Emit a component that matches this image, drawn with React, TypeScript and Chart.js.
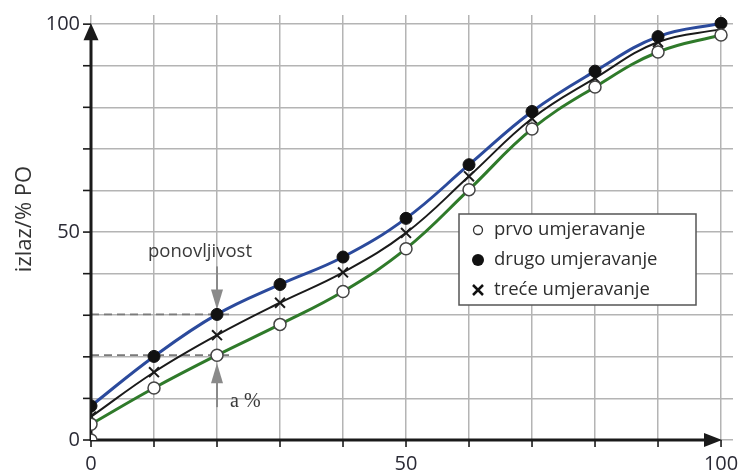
import React, { useEffect, useRef } from "react";
import { Chart, registerables } from "chart.js";

Chart.register(...registerables);

const xValues = [0, 10, 20, 30, 40, 50, 60, 70, 80, 90, 100];
const prvo = [3.8, 12.5, 20.4, 27.8, 35.7, 46.0, 60.2, 74.8, 84.9, 93.3, 97.4];
const drugo = [8.2, 20.1, 30.2, 37.4, 44.0, 53.3, 66.2, 79.0, 88.7, 97.0, 100.2];
const trece = [5.6, 16.3, 25.2, 33.0, 40.3, 49.8, 63.4, 77.3, 87.0, 95.7, 98.8];
const originPoint = [{ x: 0, y: 0 }];
const tickValues = [0, 10, 20, 30, 40, 50, 60, 70, 80, 90, 100];
const labelledTicks = [0, 50, 100];
const legendLabels = ["prvo umjeravanje", "drugo umjeravanje", "treće umjeravanje"];
const yTitle = "izlaz/% PO";
const repeatText = "ponovljivost";
const aText = "a %";
const markX = 20;

const FONT = "'Open Sans', 'Noto Sans', sans-serif";

const toPts = (ys: number[]) => ys.map((y, i) => ({ x: xValues[i], y }));

function arrowHead(ctx: CanvasRenderingContext2D, tx: number, ty: number, dir: "up" | "down" | "right", len: number, half: number) {
  ctx.beginPath();
  if (dir === "up") {
    ctx.moveTo(tx, ty);
    ctx.lineTo(tx - half, ty + len);
    ctx.lineTo(tx + half, ty + len);
  } else if (dir === "down") {
    ctx.moveTo(tx, ty);
    ctx.lineTo(tx - half, ty - len);
    ctx.lineTo(tx + half, ty - len);
  } else {
    ctx.moveTo(tx, ty);
    ctx.lineTo(tx - len, ty - half);
    ctx.lineTo(tx - len, ty + half);
  }
  ctx.closePath();
  ctx.fill();
}

const overlay = {
  id: "overlay",
  beforeDatasetsDraw(chart: any) {
    const ctx: CanvasRenderingContext2D = chart.ctx;
    const xs = chart.scales.x;
    const ys = chart.scales.y;
    const x0 = xs.getPixelForValue(0);
    const y0 = ys.getPixelForValue(0);
    const xEnd = xs.getPixelForValue(100);
    const yEnd = ys.getPixelForValue(100);
    const px20 = xs.getPixelForValue(markX);
    const idx = xValues.indexOf(markX);
    ctx.save();
    // dashed lines
    ctx.strokeStyle = "#7a7a7a";
    ctx.lineWidth = 1.6;
    ctx.setLineDash([8, 5]);
    [drugo[idx], prvo[idx]].forEach((v) => {
      const py = ys.getPixelForValue(v);
      ctx.beginPath();
      ctx.moveTo(x0, py);
      ctx.lineTo(px20 + 17, py);
      ctx.stroke();
    });
    ctx.setLineDash([]);
    // repeatability arrows
    ctx.strokeStyle = "#8a8a8a";
    ctx.fillStyle = "#8a8a8a";
    ctx.lineWidth = 2;
    const topY = ys.getPixelForValue(drugo[idx]);
    const botY = ys.getPixelForValue(prvo[idx]);
    ctx.beginPath();
    ctx.moveTo(px20, topY - 48);
    ctx.lineTo(px20, topY - 10);
    ctx.stroke();
    arrowHead(ctx, px20, topY - 5, "down", 20, 6);
    ctx.beginPath();
    ctx.moveTo(px20, botY + 52);
    ctx.lineTo(px20, botY + 15);
    ctx.stroke();
    arrowHead(ctx, px20, botY + 8, "up", 20, 6);
    // axes
    ctx.strokeStyle = "#1a1a1a";
    ctx.fillStyle = "#1a1a1a";
    ctx.lineWidth = 1.6;
    tickValues.forEach((v) => {
      const py = ys.getPixelForValue(v);
      ctx.beginPath();
      ctx.moveTo(x0 - 8, py);
      ctx.lineTo(x0, py);
      ctx.stroke();
      const px = xs.getPixelForValue(v);
      ctx.beginPath();
      ctx.moveTo(px, y0);
      ctx.lineTo(px, y0 + 7);
      ctx.stroke();
    });
    ctx.lineWidth = 3;
    ctx.beginPath();
    ctx.moveTo(x0, y0 + 1);
    ctx.lineTo(x0, yEnd + 12);
    ctx.stroke();
    ctx.beginPath();
    ctx.moveTo(x0 - 1, y0);
    ctx.lineTo(xEnd - 12, y0);
    ctx.stroke();
    arrowHead(ctx, x0, yEnd - 1, "up", 17, 7.5);
    arrowHead(ctx, xEnd + 1, y0, "right", 18, 7);
    ctx.restore();
  },
  afterDatasetsDraw(chart: any) {
    const ctx: CanvasRenderingContext2D = chart.ctx;
    const xs = chart.scales.x;
    const ys = chart.scales.y;
    const px20 = xs.getPixelForValue(markX);
    const idx = xValues.indexOf(markX);
    const topY = ys.getPixelForValue(drugo[idx]);
    const botY = ys.getPixelForValue(prvo[idx]);
    ctx.save();
    ctx.fillStyle = "#3a3a3a";
    ctx.font = `18.5px ${FONT}`;
    ctx.textAlign = "center";
    ctx.textBaseline = "middle";
    ctx.fillText(repeatText, px20 - 17, topY - 63);
    ctx.font = `20px 'Liberation Serif', serif`;
    ctx.textAlign = "left";
    ctx.fillText(aText, px20 + 13, botY + 47);
    // legend
    const lx = 459, ly = 214, lw = 237, lh = 91;
    ctx.fillStyle = "#ffffff";
    ctx.fillRect(lx, ly, lw, lh);
    ctx.strokeStyle = "#555";
    ctx.lineWidth = 1.5;
    ctx.strokeRect(lx, ly, lw, lh);
    const rows = [ly + 16, ly + 46, ly + 76];
    ctx.font = `18.5px ${FONT}`;
    ctx.textAlign = "left";
    ctx.textBaseline = "middle";
    rows.forEach((ry, i) => {
      const mx = lx + 19;
      if (i === 0) {
        ctx.beginPath();
        ctx.arc(mx, ry, 4.5, 0, Math.PI * 2);
        ctx.fillStyle = "#fff";
        ctx.fill();
        ctx.strokeStyle = "#333";
        ctx.lineWidth = 1.3;
        ctx.stroke();
      } else if (i === 1) {
        ctx.beginPath();
        ctx.arc(mx, ry, 6, 0, Math.PI * 2);
        ctx.fillStyle = "#111";
        ctx.fill();
      } else {
        ctx.strokeStyle = "#111";
        ctx.lineWidth = 2.5;
        ctx.beginPath();
        ctx.moveTo(mx - 5, ry - 5);
        ctx.lineTo(mx + 5, ry + 5);
        ctx.moveTo(mx + 5, ry - 5);
        ctx.lineTo(mx - 5, ry + 5);
        ctx.stroke();
      }
      ctx.fillStyle = "#2e2e2e";
      ctx.fillText(legendLabels[i], lx + 35, ry);
    });
    // y title
    ctx.save();
    ctx.translate(25, 219);
    ctx.rotate(-Math.PI / 2);
    ctx.font = `22px ${FONT}`;
    ctx.textAlign = "center";
    ctx.textBaseline = "middle";
    ctx.fillStyle = "#333";
    ctx.fillText(yTitle, 0, 0);
    ctx.restore();
    ctx.restore();
  },
};

export default function App() {
  const ref = useRef<HTMLCanvasElement | null>(null);
  useEffect(() => {
    document.body.style.margin = "0";
    if (!ref.current) return;
    const chart = new Chart(ref.current, {
      type: "line",
      data: {
        datasets: [
          {
            label: "origin",
            data: originPoint,
            showLine: false,
            pointRadius: 6,
            pointBackgroundColor: "#ffffff",
            pointBorderColor: "#444",
            pointBorderWidth: 1.5,
          },
          {
            label: legendLabels[0],
            data: toPts(prvo),
            borderColor: "#2f7a2a",
            borderWidth: 3,
            tension: 0.4,
            pointRadius: 6,
            pointBackgroundColor: "#ffffff",
            pointBorderColor: "#444",
            pointBorderWidth: 1.5,
          },
          {
            label: legendLabels[1],
            data: toPts(drugo),
            borderColor: "#2b4a9c",
            borderWidth: 3,
            tension: 0.4,
            pointRadius: 6,
            pointBackgroundColor: "#111",
            pointBorderColor: "#111",
            pointBorderWidth: 1,
          },
          {
            label: legendLabels[2],
            data: toPts(trece),
            borderColor: "#1a1a1a",
            borderWidth: 2,
            tension: 0.4,
            pointStyle: "crossRot",
            pointRadius: 7,
            pointBorderColor: "#1a1a1a",
            pointBorderWidth: 2,
          },
        ],
      },
      options: {
        animation: false,
        responsive: true,
        maintainAspectRatio: false,
        layout: { padding: { top: 15, right: 6, left: 0, bottom: 0 } },
        plugins: { legend: { display: false }, tooltip: { enabled: false } },
        scales: {
          x: {
            type: "linear",
            min: 0,
            max: 101.9,
            afterBuildTicks: (s: any) => {
              s.ticks = tickValues.map((v) => ({ value: v }));
            },
            afterFit: (s: any) => {
              s.height = 31;
              s.paddingLeft = 0;
              s.paddingRight = 0;
            },
            border: { display: false },
            grid: { color: "#b4b4b4", lineWidth: 1.5, drawTicks: false },
            ticks: {
              autoSkip: false,
              maxRotation: 0,
              padding: 12,
              color: "#2a2a35",
              font: { family: FONT, size: 20 },
              callback: (v: any) => (labelledTicks.includes(v) ? String(v) : ""),
            },
          },
          y: {
            type: "linear",
            min: 0,
            max: 102.2,
            afterBuildTicks: (s: any) => {
              s.ticks = tickValues.map((v) => ({ value: v }));
            },
            afterFit: (s: any) => {
              s.width = 91;
              s.paddingTop = 0;
              s.paddingBottom = 0;
            },
            border: { display: false },
            grid: { color: "#b4b4b4", lineWidth: 1.5, drawTicks: false },
            ticks: {
              autoSkip: false,
              padding: 11,
              color: "#2a2a35",
              font: { family: FONT, size: 20 },
              callback: (v: any) => (labelledTicks.includes(v) ? String(v) : ""),
            },
          },
        },
      },
      plugins: [overlay],
    } as any);
    return () => chart.destroy();
  }, []);
  return (
    <div style={{ position: "relative", width: 742, height: 471 }}>
      <canvas ref={ref} />
    </div>
  );
}
